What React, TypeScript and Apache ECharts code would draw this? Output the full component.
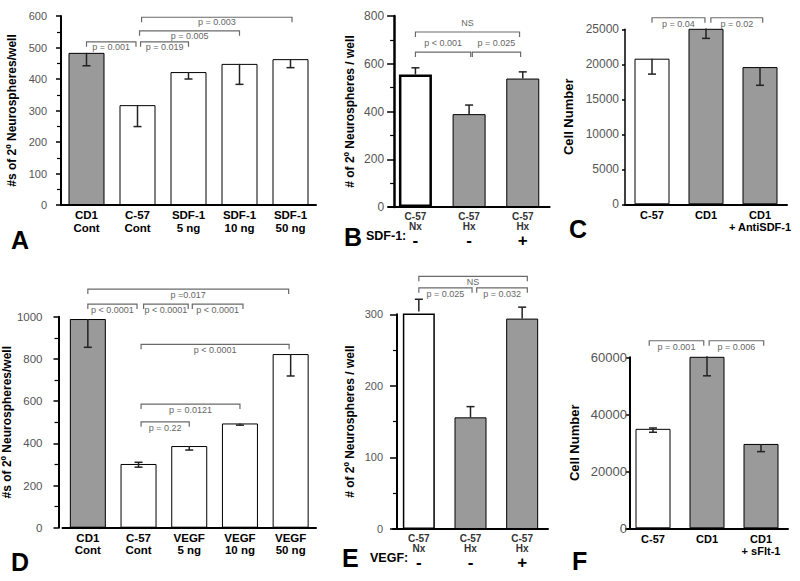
import React, { useEffect, useRef } from "react";
import * as echarts from "echarts";

const GRAY = "#9a9a9a";
const WHITE = "#ffffff";
const FONT = "'Liberation Sans', Arial, sans-serif";
const NARROW = "'Liberation Sans Narrow', 'Liberation Sans', Arial, sans-serif";

// ---------- Panel A ----------
const catsA = ["CD1\nCont", "C-57\nCont", "SDF-1\n5 ng", "SDF-1\n10 ng", "SDF-1\n50 ng"];
const valsA = [483, 317, 422, 448, 463];
const errDownA = [41, 68, 22, 65, 27];
const errUpA = [0, 0, 0, 0, 0];
const fillA = [GRAY, WHITE, WHITE, WHITE, WHITE];
const bracketsA = [
  { from: 0, to: 0.97, y: 518, text: "p = 0.001" },
  { from: 1.06, to: 2, y: 518, text: "p = 0.019" },
  { from: 1.04, to: 3, y: 553, text: "p = 0.005" },
  { from: 1.08, to: 4.03, y: 596, text: "p = 0.003" },
];

// ---------- Panel B ----------
const catsB = ["C-57\nNx", "C-57\nHx", "C-57\nHx"];
const signsB = ["-", "-", "+"];
const valsB = [555, 389, 538];
const errDownB = [0, 0, 0];
const errUpB = [28, 38, 28];
const fillB = [WHITE, GRAY, GRAY];
const borderB = [2.5, 1, 1];
const bracketsB = [
  { from: 0, to: 1.94, y: 733, text: "NS" },
  { from: 0, to: 1.03, y: 649, text: "p < 0.001" },
  { from: 1.06, to: 1.96, y: 649, text: "p = 0.025" },
];

// ---------- Panel C ----------
const catsC = ["C-57", "CD1", "CD1\n+ AntiSDF-1"];
const valsC = [20800, 25100, 19600];
const errDownC = [2200, 1400, 2600];
const errUpC = [0, 0, 0];
const fillC = [WHITE, GRAY, GRAY];
const bracketsC = [
  { from: 0, to: 0.98, y: 26650, text: "p = 0.04" },
  { from: 1.09, to: 2.05, y: 26650, text: "p = 0.02" },
];

// ---------- Panel D ----------
const catsD = ["CD1\nCont", "C-57\nCont", "VEGF\n5 ng", "VEGF\n10 ng", "VEGF\n50 ng"];
const valsD = [989, 302, 387, 494, 823];
const errDownD = [134, 15, 19, 8, 104];
const errUpD = [0, 8, 0, 0, 0];
const fillD = [GRAY, WHITE, WHITE, WHITE, WHITE];
const bracketsD = [
  { from: 0, to: 3.96, y: 1131, text: "p =0.017" },
  { from: 0, to: 0.97, y: 1060, text: "p < 0.0001" },
  { from: 1.1, to: 1.98, y: 1060, text: "p < 0.0001" },
  { from: 2.06, to: 3.06, y: 1060, text: "p < 0.0001" },
  { from: 1.05, to: 3.97, y: 869, text: "p < 0.0001" },
  { from: 1.05, to: 3, y: 586, text: "p = 0.0121" },
  { from: 1.05, to: 2, y: 502, text: "p = 0.22" },
];

// ---------- Panel E ----------
const catsE = ["C-57\nNx", "C-57\nHx", "C-57\nHx"];
const signsE = ["-", "-", "+"];
const valsE = [304, 156, 294];
const errDownE = [0, 0, 0];
const errUpE = [17, 15, 16];
const fillE = [WHITE, GRAY, GRAY];
const bracketsE = [
  { from: 0, to: 2.1, y: 353, text: "NS" },
  { from: 0, to: 1.03, y: 337, text: "p = 0.025" },
  { from: 1.12, to: 2.1, y: 337, text: "p = 0.032" },
];

// ---------- Panel F ----------
const catsF = ["C-57", "CD1", "CD1\n+ sFlt-1"];
const valsF = [34900, 60400, 29600];
const errDownF = [1200, 6900, 2700];
const errUpF = [300, 0, 0];
const fillF = [WHITE, GRAY, GRAY];
const bracketsF = [
  { from: -0.07, to: 0.94, y: 65800, text: "p = 0.001" },
  { from: 1.04, to: 2.05, y: 65800, text: "p = 0.006" },
];

type Bracket = { from: number; to: number; y: number; text: string };

function barSeries(idx: number, vals: number[], fills: string[], width: number, borders?: number[]) {
  return {
    type: "bar",
    xAxisIndex: idx,
    yAxisIndex: idx,
    barWidth: width,
    silent: true,
    data: vals.map((v, i) => ({
      value: v,
      itemStyle: { color: fills[i], borderColor: "#000", borderWidth: borders ? borders[i] : 1 },
    })),
    z: 2,
  };
}

function errorSeries(idx: number, vals: number[], down: number[], up: number[]) {
  return {
    type: "custom",
    xAxisIndex: idx,
    yAxisIndex: idx,
    silent: true,
    z: 5,
    data: vals.map((v, i) => [i, v, down[i], up[i]]),
    renderItem: (params: any, api: any) => {
      const i = api.value(0);
      const v = api.value(1);
      const d = api.value(2);
      const u = api.value(3);
      const top = api.coord([i, v + u]);
      const bot = api.coord([i, v - d]);
      const cap = 4;
      const st = { stroke: "#222", lineWidth: 1.5 };
      const children: any[] = [
        { type: "line", shape: { x1: top[0], y1: top[1], x2: bot[0], y2: bot[1] }, style: st },
      ];
      if (d > 0)
        children.push({ type: "line", shape: { x1: bot[0] - cap, y1: bot[1], x2: bot[0] + cap, y2: bot[1] }, style: st });
      if (u > 0)
        children.push({ type: "line", shape: { x1: top[0] - cap, y1: top[1], x2: top[0] + cap, y2: top[1] }, style: st });
      return { type: "group", children };
    },
  };
}

function bracketSeries(idx: number, brackets: Bracket[], textDy: number) {
  return {
    type: "custom",
    xAxisIndex: idx,
    yAxisIndex: idx,
    silent: true,
    clip: false,
    z: 6,
    data: brackets.map((b) => [0, b.y]),
    renderItem: (params: any, api: any) => {
      const b = brackets[params.dataIndex];
      const c0 = api.coord([0, b.y]);
      const band = api.size([1, 0])[0];
      const x1 = c0[0] + b.from * band;
      const x2 = c0[0] + b.to * band;
      const y = c0[1];
      const leg = 5;
      const st = { stroke: "#6a6a6a", lineWidth: 1.2, fill: "none" };
      return {
        type: "group",
        children: [
          { type: "polyline", shape: { points: [[x1, y + leg], [x1, y], [x2, y], [x2, y + leg]] }, style: st },
          {
            type: "text",
            x: (x1 + x2) / 2,
            y: y + textDy,
            style: { text: b.text, fill: "#666", fontSize: 9, fontFamily: FONT, align: "center", verticalAlign: "middle" },
          },
        ],
      };
    },
  };
}

function grid(left: number, top: number, width: number, height: number) {
  return { left, top, width, height, containLabel: false };
}

function xAxis(idx: number, cats: string[], fontSize: number, rich?: any, signs?: string[]) {
  const label: any = {
    interval: 0,
    color: "#000",
    fontWeight: "bold",
    fontSize,
    lineHeight: 12.5,
    fontFamily: FONT,
    margin: 4,
  };
  if (rich && signs) {
    label.formatter = (v: string, i: number) => {
      const parts = v.split("\n");
      return `{t|${parts[0]}}\n{t|${parts[1]}}\n{s|${signs[i]}}`;
    };
    label.rich = rich;
    label.margin = 4;
  }
  return {
    type: "category",
    gridIndex: idx,
    data: cats,
    axisTick: { show: false },
    axisLine: { show: true, lineStyle: { color: "#000", width: 2 } },
    axisLabel: label,
    z: 10,
  };
}

function yAxis(
  idx: number,
  max: number,
  interval: number,
  name: string,
  nameGap: number,
  o: { fontSize: number; margin: number; tickLen: number; minor: boolean; offset?: number; nameSize?: number; lineW?: number }
) {
  return {
    type: "value",
    gridIndex: idx,
    min: 0,
    max,
    interval,
    offset: o.offset ?? 0,
    name,
    nameLocation: "middle",
    nameGap,
    nameRotate: 90,
    nameTextStyle: { color: "#000", fontWeight: "bold", fontSize: o.nameSize ?? 12, fontFamily: FONT },
    axisLine: { show: true, lineStyle: { color: "#000", width: o.lineW ?? 2 } },
    axisTick: { show: true, length: o.tickLen, lineStyle: { color: "#000", width: 1.5 } },
    minorTick: { show: o.minor, splitNumber: 2, length: 4, lineStyle: { color: "#000", width: 1.2 } },
    splitLine: { show: false },
    axisLabel: {
      color: "#555",
      fontSize: o.fontSize,
      margin: o.margin,
      fontFamily: FONT,
      formatter: (v: number) => String(v),
    },
    z: 10,
  };
}

const richSign = {
  t: { fontSize: 10, lineHeight: 10, color: "#333", fontFamily: NARROW, fontWeight: "bold" },
  s: { fontSize: 17, lineHeight: 19, color: "#000", fontWeight: "bold", fontFamily: FONT },
};

function letter(text: string, x: number, y: number) {
  return {
    type: "text",
    x,
    y,
    style: { text, fill: "#000", fontSize: 25, fontWeight: "bold", fontFamily: FONT, verticalAlign: "middle" },
  };
}

function smallLabel(text: string, x: number, y: number) {
  return {
    type: "text",
    x,
    y,
    style: { text, fill: "#000", fontSize: 12.5, fontWeight: "bold", fontFamily: NARROW, verticalAlign: "middle" },
  };
}

export default function App() {
  const ref = useRef<HTMLDivElement>(null);
  useEffect(() => {
    if (!ref.current) return;
    const chart = echarts.init(ref.current, undefined, { renderer: "svg" });
    const option: any = {
      animation: false,
      backgroundColor: "#fff",
      grid: [
        grid(61, 16, 255, 189),
        grid(388.6, 16, 161, 191),
        grid(625, 29.3, 162, 175),
        grid(61, 316.7, 255, 211),
        grid(393, 314.3, 155, 214.7),
        grid(626, 357.3, 162, 171),
      ],
      xAxis: [
        xAxis(0, catsA, 11.5),
        xAxis(1, catsB, 10, richSign, signsB),
        xAxis(2, catsC, 11),
        xAxis(3, catsD, 11.5),
        xAxis(4, catsE, 10, richSign, signsE),
        xAxis(5, catsF, 11),
      ],
      yAxis: [
        yAxis(0, 600, 100, "#s of 2º Neurospheres/well", 43, { fontSize: 11, margin: 14, tickLen: 5, minor: true }),
        yAxis(1, 800, 200, "# of 2º Neurospheres / well", 38, { fontSize: 12, margin: 10, tickLen: 7, minor: true, offset: -5.5, lineW: 2.5 }),
        yAxis(2, 25000, 5000, "Cell Number", 50, { fontSize: 12, margin: 6, tickLen: 3, minor: false, nameSize: 13, lineW: 1.5 }),
        yAxis(3, 1000, 200, "#s of 2º Neurospheres/well", 38, { fontSize: 11.5, margin: 16, tickLen: 5, minor: true, offset: 4 }),
        yAxis(4, 300, 100, "# of 2º Neurospheres / well", 41, { fontSize: 11, margin: 14, tickLen: 7, minor: true, offset: -4 }),
        yAxis(5, 60000, 20000, "Cell Number", 49, { fontSize: 13, margin: 3, tickLen: 4, minor: false, nameSize: 13, offset: -4, lineW: 2 }),
      ],
      series: [
        barSeries(0, valsA, fillA, 36),
        errorSeries(0, valsA, errDownA, errUpA),
        bracketSeries(0, bracketsA, 5),
        barSeries(1, valsB, fillB, 33, borderB),
        errorSeries(1, valsB, errDownB, errUpB),
        bracketSeries(1, bracketsB, -9),
        barSeries(2, valsC, fillC, 35),
        errorSeries(2, valsC, errDownC, errUpC),
        bracketSeries(2, bracketsC, 6),
        barSeries(3, valsD, fillD, 36),
        errorSeries(3, valsD, errDownD, errUpD),
        bracketSeries(3, bracketsD, 6),
        barSeries(4, valsE, fillE, 32, [1.5, 1, 1]),
        errorSeries(4, valsE, errDownE, errUpE),
        bracketSeries(4, bracketsE, 6),
        barSeries(5, valsF, fillF, 35),
        errorSeries(5, valsF, errDownF, errUpF),
        bracketSeries(5, bracketsF, 6),
      ],
      graphic: [
        letter("A", 11, 240),
        letter("B", 344, 237),
        smallLabel("SDF-1:", 366, 236),
        letter("C", 569, 229),
        letter("D", 11, 562),
        letter("E", 342, 558),
        smallLabel("VEGF:", 370, 558),
        letter("F", 572, 561),
      ],
    };
    chart.setOption(option);
    return () => chart.dispose();
  }, []);
  return <div ref={ref} style={{ position: "absolute", left: 0, top: 0, width: 800, height: 581 }} />;
}
